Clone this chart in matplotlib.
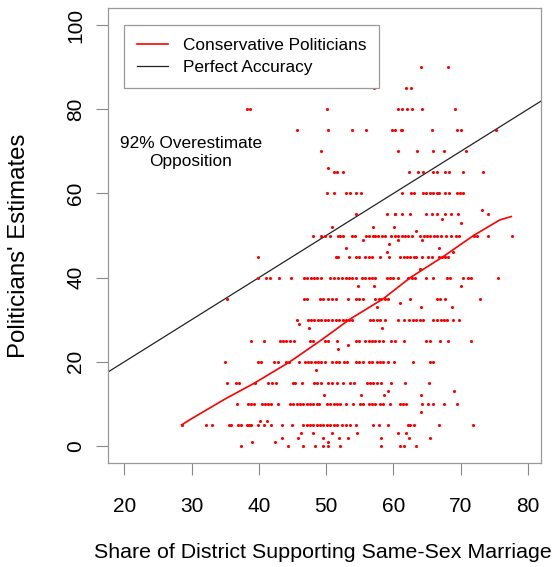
import matplotlib
matplotlib.use("Agg")
import matplotlib.pyplot as plt

plt.rcParams['font.family'] = ['Liberation Sans', 'DejaVu Sans']

# politicians' estimate levels and the district support values at each level
levels = [90, 85, 80, 75, 70, 66, 65, 60, 56, 55, 54, 53, 52, 51, 50, 49, 48, 47, 46,
          45, 42, 40, 38, 35, 34, 33, 30, 29, 28, 25, 24, 23, 20, 18, 15, 13, 12, 10,
          8, 6, 5, 3, 2, 1, 0]
shares = [
    [64.1, 68.1],
    [57.1, 61.8, 62.6],
    [38.2, 38.7, 50.1, 60.6, 61.3, 62.0, 62.7, 64.2, 69.1],
    [45.6, 50.3, 53.8, 55.9, 59.8, 60.2, 61.1, 61.3, 65.7, 69.4, 70.1, 75.2],
    [49.2, 60.6, 63.5, 65.9, 67.5, 70.8],
    [50.2],
    [51.2, 51.6, 52.5, 62.3, 63.7, 64.4, 65.9, 66.4, 67.6, 68.2, 70.4, 73.3],
    [50.1, 51.2, 53.0, 53.5, 54.4, 55.1, 61.3, 62.6, 63.0, 64.4, 64.9, 65.4, 65.9,
     66.4, 66.8, 67.6, 68.2, 69.4, 69.9, 70.4],
    [73.1],
    [54.5, 59.0, 60.2, 60.3, 61.3, 62.5, 64.9, 65.7, 66.4, 67.6, 68.6, 69.6, 74.0],
    [67.2],
    [70.0],
    [50.8, 57.0, 60.1],
    [63.3],
    [48.0, 49.3, 49.8, 50.6, 51.7, 52.1, 52.5, 53.8, 54.3, 55.9, 56.4, 56.9, 57.3,
     57.7, 58.3, 58.7, 59.7, 60.2, 60.7, 61.2, 61.7, 62.2, 62.7, 64.0, 64.5, 65.0,
     65.5, 66.0, 66.5, 67.0, 67.8, 68.6, 69.3, 69.8, 71.9, 72.4, 74.0, 77.6],
    [55.5, 60.7, 64.2],
    [59.3],
    [53.0, 66.8],
    [59.1, 68.9],
    [39.8, 51.4, 51.7, 53.4, 54.4, 54.9, 55.8, 56.3, 56.8, 58.0, 59.3, 61.0, 61.5,
     62.0, 62.5, 63.0, 63.4, 64.2, 65.2, 65.7, 66.7, 67.2, 67.6, 68.1],
    [63.9],
    [39.9, 41.1, 41.6, 43.0, 44.7, 46.7, 47.2, 47.7, 48.2, 48.7, 49.2, 50.5, 51.1,
     51.8, 52.3, 52.9, 53.4, 53.9, 54.4, 55.3, 55.8, 56.3, 56.8, 57.3, 59.0, 59.5,
     59.9, 60.7, 62.2, 62.7, 63.2, 64.8, 65.8, 67.9, 68.4, 70.3, 71.1, 71.5, 75.6],
    [54.8, 57.1, 70.0],
    [35.2, 46.7, 47.2, 49.1, 49.6, 50.2, 50.9, 51.5, 53.3, 54.4, 54.9, 55.4, 57.3,
     57.8, 58.2, 58.7, 59.2, 62.5, 66.4, 66.9, 67.6, 72.8],
    [61.0],
    [57.5, 64.1, 68.7],
    [45.7, 47.3, 47.8, 48.2, 48.8, 49.3, 49.8, 50.3, 50.9, 51.5, 51.9, 52.5, 52.9,
     53.4, 53.9, 56.5, 57.0, 57.5, 58.0, 58.7, 60.7, 61.5, 62.3, 62.9, 63.3, 63.9,
     64.4, 65.8, 66.5, 67.0, 67.5, 68.0, 68.8, 69.8],
    [46.0],
    [47.5, 58.3],
    [38.9, 40.7, 43.1, 43.6, 44.1, 44.6, 45.2, 47.6, 48.1, 49.8, 50.3, 51.6, 54.4,
     54.9, 55.8, 56.3, 56.8, 57.3, 57.8, 58.4, 59.7, 60.2, 61.6, 64.9, 65.4, 66.9,
     68.1, 71.5],
    [53.3],
    [51.7],
    [34.9, 39.9, 40.3, 42.3, 42.8, 44.0, 44.5, 46.0, 46.9, 47.3, 47.8, 48.3, 48.8,
     49.3, 49.8, 50.9, 51.5, 51.9, 52.7, 53.1, 54.4, 54.9, 55.4, 56.3, 56.8, 57.5,
     58.0, 58.4, 59.2, 60.1, 62.9, 65.4, 65.9],
    [48.5],
    [35.2, 36.6, 37.0, 39.4, 41.4, 41.9, 42.5, 45.0, 45.4, 46.4, 48.2, 48.7, 49.3,
     50.3, 50.8, 51.6, 52.5, 53.6, 54.2, 56.0, 56.5, 57.0, 57.5, 58.1, 59.7, 61.7,
     65.3],
    [59.2, 69.0],
    [49.7, 55.2, 58.6, 64.1],
    [36.8, 38.4, 38.8, 39.3, 40.4, 40.9, 41.4, 41.8, 42.9, 44.6, 45.1, 45.6, 46.1,
     46.6, 47.1, 47.6, 48.0, 48.6, 48.9, 50.1, 50.6, 51.1, 51.6, 52.1, 53.0, 54.0,
     55.0, 55.5, 56.3, 56.8, 57.3, 58.0, 58.5, 59.5, 60.9, 61.4, 61.8, 64.3, 65.2,
     65.8, 67.5, 69.4],
    [64.1],
    [40.2, 41.2],
    [28.5, 32.2, 33.1, 35.6, 35.8, 36.9, 37.3, 38.2, 38.6, 38.8, 39.8, 40.8, 41.8,
     43.5, 44.9, 46.6, 47.1, 47.6, 48.1, 48.6, 49.1, 49.6, 50.1, 50.6, 51.1, 51.6,
     52.3, 52.9, 53.6, 54.4, 56.9, 57.8, 59.2, 62.2, 62.5, 63.0, 66.8, 71.8],
    [46.3, 48.0, 50.9, 54.6, 60.6, 61.8],
    [43.4, 45.8, 49.6, 51.9, 53.3, 58.1, 62.3, 65.4],
    [39.0, 42.4, 50.2],
    [37.3, 44.3, 46.5, 48.4, 49.6, 50.3, 52.1, 58.1, 61.0, 61.6, 63.3],
]

# smoothed fit for conservative politicians
fit_x = [28.5, 29.8, 34.9, 36.4, 39.4, 44.6, 49.3, 53.5, 58.5, 62.5, 67.4, 71.9, 75.8, 77.5]
fit_y = [5.0, 6.3, 11.1, 12.4, 15.0, 20.0, 25.2, 30.1, 35.0, 40.0, 45.0, 50.0, 53.7, 54.5]

xs, ys = [], []
for lev, row in zip(levels, shares):
    xs += row
    ys += [lev] * len(row)

fig = plt.figure(figsize=(5.54, 5.67), dpi=100)
ax = fig.add_axes([0.195, 0.1834, 0.7815, 0.8025])

ax.scatter(xs, ys, s=5, color='red', linewidths=0, zorder=3)
ax.plot(fit_x, fit_y, color='red', lw=1.2, label='Conservative Politicians', zorder=4)
ax.axline((0, 0), slope=1, color='#222222', lw=0.9, label='Perfect Accuracy', zorder=2)

ax.set_xlim(17.58, 81.92)
ax.set_ylim(-4.04, 104.04)
ax.set_xticks([20, 30, 40, 50, 60, 70, 80])
ax.set_yticks([0, 20, 40, 60, 80, 100])
ax.tick_params(axis='both', length=8.5, width=0.8, color='#888888', labelsize=15)
ax.tick_params(axis='x', pad=16)
ax.tick_params(axis='y', pad=8)
for lab in ax.get_yticklabels():
    lab.set_rotation(90)
    lab.set_va('center')
for sp in ax.spines.values():
    sp.set_color('#999999')
    sp.set_linewidth(0.9)

ax.set_xlabel('Share of District Supporting Same-Sex Marriage', fontsize=15.4, va='center')
ax.xaxis.set_label_coords(0.4965, -0.1956)
ax.set_ylabel("Politicians' Estimates", fontsize=17.3, va='center')
ax.yaxis.set_label_coords(-0.2055, 0.477)

ax.text(29.9, 69.7, '92% Overestimate\nOpposition', fontsize=12.4, ha='center', va='center',
        linespacing=1.3)

leg = ax.legend(loc='upper left', bbox_to_anchor=(0.036, 0.9626), borderaxespad=0,
                fontsize=12.4, fancybox=False, framealpha=1, edgecolor='#999999',
                handlelength=1.8, handletextpad=0.9, borderpad=0.75, labelspacing=0.38)
leg.get_frame().set_linewidth(0.9)

fig.savefig('out.png', dpi=100)
